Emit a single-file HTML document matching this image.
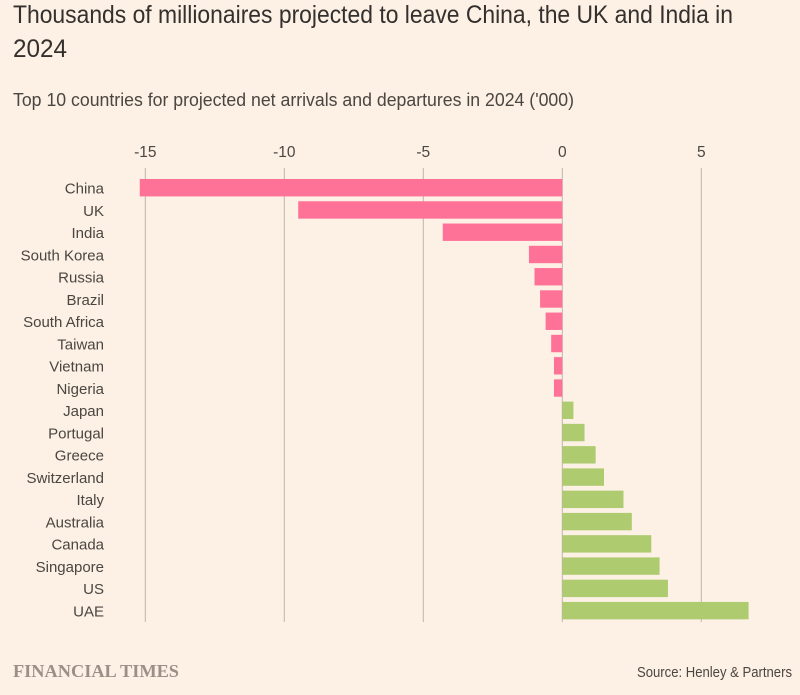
<!DOCTYPE html>
<html lang="en">
<head>
<meta charset="utf-8">
<title>Thousands of millionaires projected to leave China, the UK and India in 2024</title>
<style>
html,body{margin:0;padding:0;background:#fdf0e4;}
body{width:800px;height:695px;overflow:hidden;}
svg{display:block;font-family:"Liberation Sans",sans-serif;}
</style>
</head>
<body>
<svg id="chart" width="800" height="695" viewBox="0 0 800 695" xmlns="http://www.w3.org/2000/svg">
  <rect width="800" height="695" fill="#fdf0e4"/>
  <text x="13" y="23" font-size="25" fill="#33302e" textLength="720" lengthAdjust="spacingAndGlyphs">Thousands of millionaires projected to leave China, the UK and India in</text>
  <text x="13" y="57" font-size="25" fill="#33302e" textLength="54" lengthAdjust="spacingAndGlyphs">2024</text>
  <text x="13" y="106" font-size="18" fill="#4a4642" textLength="561" lengthAdjust="spacingAndGlyphs">Top 10 countries for projected net arrivals and departures in 2024 ('000)</text>
  <g id="grid"></g>
  <g id="ticks"></g>
  <g id="bars"></g>
  <g id="labels"></g>
  <text x="13" y="677" font-family="'Liberation Serif',serif" font-weight="700" font-size="18" fill="#9b9087" textLength="166" lengthAdjust="spacingAndGlyphs">FINANCIAL TIMES</text>
  <text x="637" y="677" font-size="14.5" fill="#4a4642" textLength="155" lengthAdjust="spacingAndGlyphs">Source: Henley &amp; Partners</text>
</svg>
<script>
const categories = ["China","UK","India","South Korea","Russia","Brazil","South Africa","Taiwan","Vietnam","Nigeria","Japan","Portugal","Greece","Switzerland","Italy","Australia","Canada","Singapore","US","UAE"];
const netFlows = [-15.2,-9.5,-4.3,-1.2,-1.0,-0.8,-0.6,-0.4,-0.3,-0.3,0.4,0.8,1.2,1.5,2.2,2.5,3.2,3.5,3.8,6.7];
const tickValues = [-15,-10,-5,0,5];

const NS = "http://www.w3.org/2000/svg";
const xScale = v => 562.3 + v * 27.8;
const bandTop = i => 179 + i * 22.26;
const BAR_H = 17.4;

function make(tag, attrs, parent, text) {
  const el = document.createElementNS(NS, tag);
  for (const k in attrs) el.setAttribute(k, attrs[k]);
  if (text !== undefined) el.textContent = text;
  parent.appendChild(el);
  return el;
}

const grid = document.getElementById("grid");
const ticks = document.getElementById("ticks");
const bars = document.getElementById("bars");
const labels = document.getElementById("labels");

tickValues.forEach(t => {
  const line = make("line", {x1: xScale(t), x2: xScale(t), y1: 168, y2: 622, stroke: "#bdb5ac", "stroke-width": 1}, grid);
  
  
  const label = make("text", {x: xScale(t), y: 157, "text-anchor": "middle", "font-size": 15.5, fill: "#4a4642"}, ticks, String(t));
  
  
});

categories.forEach((c, i) => {
  const v = netFlows[i];
  const x0 = xScale(Math.min(v, 0));
  const x1 = xScale(Math.max(v, 0));
  const bar = make("rect", {x: x0, y: bandTop(i), width: x1 - x0, height: BAR_H, fill: v < 0 ? "#ff7298" : "#aecb6f"}, bars);
  
  
  const label = make("text", {x: 104, y: bandTop(i) + 14.5, "text-anchor": "end", "font-size": 15, fill: "#4a4642"}, labels, c);
  
  
});
</script>
</body>
</html>
